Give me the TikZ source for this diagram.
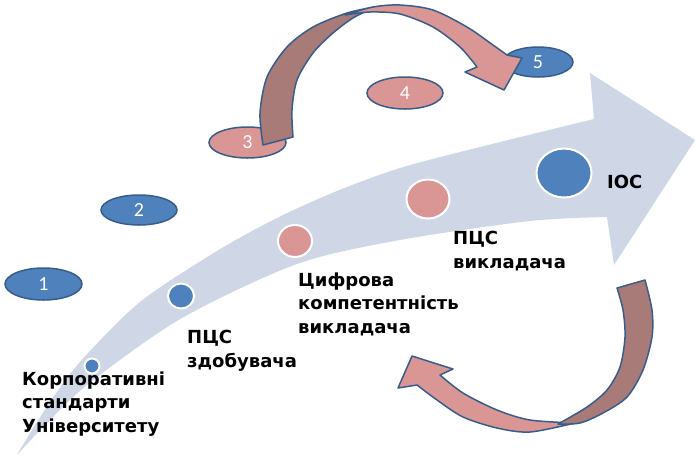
\documentclass[tikz,border=0pt]{standalone}
\usepackage{fontspec}
\usetikzlibrary{shapes.geometric}
\newfontfamily\lblfont{DejaVu Sans}
\newfontfamily\numfont{Carlito}
\definecolor{bandc}{RGB}{207,214,230}
\definecolor{bluef}{RGB}{79,129,189}
\definecolor{pinkf}{RGB}{217,150,148}
\definecolor{darkf}{RGB}{168,122,120}
\definecolor{edgec}{RGB}{56,93,138}
\begin{document}
\begin{tikzpicture}[x=1pt,y=-1pt,
  oval/.style={ellipse, draw=edgec, line width=1.5pt, inner sep=0pt, text=white,
    font=\numfont\fontsize{20}{20}\selectfont},
  dot/.style={ellipse, draw=white, line width=2pt, inner sep=0pt},
  lbl/.style={anchor=base west, align=left, inner sep=0pt,
    font=\lblfont\bfseries\fontsize{18}{23.5}\selectfont},
  ribbon/.style={draw=edgec, line width=1.5pt, line join=round}]
\useasboundingbox (0,0) rectangle (695,456);
% big curved band arrow
\fill[bandc] plot[smooth] coordinates {(18,453) (48,405) (80,362) (140,302) (217,251) (277,218) (337,191) (400,168) (480,147) (594,119)}
  -- (590,73) -- (695,140) -- (614,265) -- (607,217)
  -- plot[smooth] coordinates {(607,217) (530,221) (400,240) (297,264) (182,318) (92,381) (50,420) (17,455)} -- cycle;
% dots on the band
\node[dot, fill=bluef, minimum width=15pt, minimum height=15pt] (c1) at (92,366) {};
\node[dot, fill=bluef, minimum width=26pt, minimum height=25pt] (c2) at (181,296) {};
\node[dot, fill=pinkf, minimum width=34pt, minimum height=32pt] (c3) at (295,241) {};
\node[dot, fill=pinkf, minimum width=43pt, minimum height=39pt] (c4) at (428,199) {};
\node[dot, fill=bluef, minimum width=55pt, minimum height=49pt] (c5) at (564,173) {};
% labels (anchor = baseline of the last line)
\node[lbl] (t1) at (22,432) {Корпоративні\\стандарти\\Університету};
\node[lbl] (t2) at (187,367) {ПЦС\\здобувача};
\node[lbl] (t3) at (298,333) {Цифрова\\компетентність\\викладача};
\node[lbl] (t4) at (453,268) {ПЦС\\викладача};
\node[lbl] (t5) at (607,188) {IOC};
% numbered ovals
\node[oval, fill=bluef, minimum width=77pt, minimum height=32pt] (e1) at (43.5,284) {1};
\node[oval, fill=bluef, minimum width=76pt, minimum height=30pt] (e2) at (139,210) {2};
\node[oval, fill=pinkf, minimum width=77pt, minimum height=31pt] (e3) at (247.5,142.5) {3};
\node[oval, fill=pinkf, minimum width=76pt, minimum height=32pt] (e4) at (405,93) {4};
\node[oval, fill=bluef, minimum width=70pt, minimum height=30pt] (e5) at (538,62) {5};
% top curved arrow
\path[ribbon, fill=darkf] plot[smooth] coordinates {(263,145) (260,113) (267,77) (287,47) (313,27) (347,13) (375,7)}
  -- plot[smooth] coordinates {(375,7) (353,18) (333,33) (313,53) (297,80) (292,110) (293,137)} -- cycle;
\path[ribbon, fill=pinkf] plot[smooth] coordinates {(345,15) (373,7) (400,5) (433,10) (467,27) (493,45) (507,55)}
  -- (522,58) -- (504,90) -- (465,72) -- (477,67)
  -- plot[smooth] coordinates {(477,67) (460,47) (433,27) (400,14) (370,12) (345,15)} -- cycle;
% bottom curved arrow
\path[ribbon, fill=pinkf] plot[smooth] coordinates {(575,423) (530,432) (497,428) (463,417) (437,400) (417,385)}
  -- (398,388) -- (412,356) -- (453,369) -- (440,375)
  -- plot[smooth] coordinates {(440,375) (463,393) (497,410) (530,420) (575,423)} -- cycle;
\path[ribbon, fill=darkf] plot[smooth] coordinates {(645,280) (652,310) (652,337) (643,370) (627,397) (603,413) (580,423) (558,424)}
  -- plot[smooth] coordinates {(558,424) (587,407) (607,390) (620,367) (625,337) (623,310) (617,288)} -- cycle;
\end{tikzpicture}
\end{document}
